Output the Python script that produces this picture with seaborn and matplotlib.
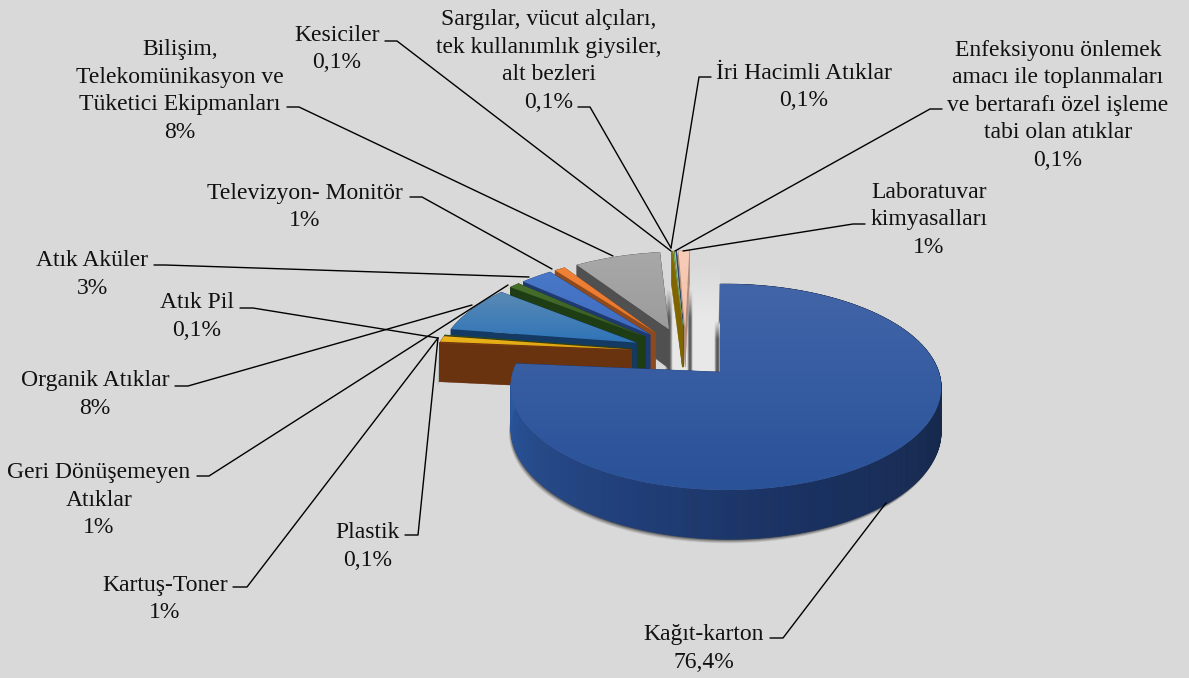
import numpy as np
import seaborn as sns
import matplotlib.pyplot as plt
from matplotlib.patches import Polygon

# chart data, clockwise from 12 o'clock
categories = ['Kağıt-karton', 'Plastik', 'Kartuş-Toner', 'Atık Pil', 'Organik Atıklar',
              'Geri Dönüşemeyen\nAtıklar', 'Atık Aküler', 'Televizyon- Monitör',
              'Bilişim,\nTelekomünikasyon ve\nTüketici Ekipmanları', 'Kesiciler',
              'Sargılar, vücut alçıları,\ntek kullanımlık giysiler,\nalt bezleri',
              'İri Hacimli Atıklar',
              'Enfeksiyonu önlemek\namacı ile toplanmaları\nve bertarafı özel işleme\ntabi olan atıklar',
              'Laboratuvar\nkimyasalları']
values = [76.4, 0.1, 1, 0.1, 8, 1, 3, 1, 8, 0.1, 0.1, 0.1, 0.1, 1]

# slice colours: top surface (far, near) and wall
top_far = ['#4265a8', '#8a4014', '#f0b81c', '#3a5a20', '#5a8ab4', '#47702c', '#4a78c8', '#f08238',
           '#a8a8a8', '#8a7a20', '#7fb56a', '#a8c8b0', '#2a4a80', '#f8cdb8']
top_near = ['#2a5299', '#843c0c', '#d9a010', '#385723', '#2f74b8', '#385723', '#3f6cc0', '#e87428',
            '#9c9c9c', '#7f6000', '#70ad47', '#9dc3a6', '#264478', '#f4bfa6']
wall = ['#1a3263', '#6a3310', '#6a3310', '#24401a', '#143a64', '#1e3d14', '#1f3a70', '#8c4a1e',
        '#505050', '#806400', '#5a7a30', '#6a8a70', '#1a3058', '#b08a78']
main_wall = ['#16264a', '#14233f', '#16294e', '#1a3263', '#234584', '#2c5aa0']

# label anchors: centre x, first line y, line height 27.5
label_x = [704, 368, 165, 197, 95, 99, 92, 305, 180, 337, 549, 804, 1058, 929]
label_y = [632, 530, 583, 300, 378, 470, 258, 191, 47, 33, 17, 71, 48, 190]
LINE_H = 27.5

# leader lines, label end to slice
leaders = [[(770, 638), (783, 638), (886, 503)],
           [(405, 535), (418, 535), (438, 338)],
           [(233, 587), (247, 587), (438, 338)],
           [(240, 308), (253, 308), (438, 338)],
           [(175, 386), (188, 386), (472, 305)],
           [(197, 476), (209, 476), (508, 285)],
           [(154, 265), (165, 265), (529, 277)],
           [(410, 197), (422, 197), (552, 269)],
           [(287, 107), (299, 107), (613, 256)],
           [(385, 41), (397, 41), (671, 251)],
           [(578, 107), (590, 107), (671, 248)],
           [(711, 77), (699, 77), (671, 248)],
           [(942, 109), (930, 109), (675, 251)],
           [(865, 224), (853, 224), (683, 251)]]

# projection of the pie plane onto the page
X0, Y0 = 720, 372     # page position of the first slice's tip
R, A = 212.7, 100.8
KY, KX = 0.1457, 0.028
DEPTH = 42
EXPLODE = 0.27
REST_SHIFT = 0.015    # small slices sit a little to the right of a pure explode

sns.set_theme(style='white', rc={'figure.facecolor': '#d9d9d9', 'axes.facecolor': '#d9d9d9'})
plt.rcParams['font.family'] = ['Liberation Serif', 'DejaVu Serif']

fig = plt.figure(figsize=(11.89, 6.78), dpi=100)
ax = fig.add_axes([0, 0, 1, 1])
ax.set_xlim(0, 1189)
ax.set_ylim(678, 0)
sns.despine(ax=ax, left=True, bottom=True)
ax.set_xticks([])
ax.set_yticks([])


def project(x, y):
    """plane coordinates relative to the first slice's tip -> page, plus the perspective factor"""
    s = 1 / (1 + KY * y - KX * x)
    return X0 + R * x * s, Y0 - A * y * s, s


def slice_outline(start, end, offset):
    ang = np.radians(np.linspace(start, end, max(int(end - start) * 2, 2)))
    rim_x = offset[0] + np.sin(ang)
    rim_y = offset[1] + np.cos(ang)
    return rim_x, rim_y


def radial_face(tip, rim, color, z):
    px, py, ps = project(np.array([tip[0], rim[0]]), np.array([tip[1], rim[1]]))
    pts = [(px[0], py[0]), (px[1], py[1]), (px[1], py[1] + DEPTH * ps[1]), (px[0], py[0] + DEPTH * ps[0])]
    ax.add_patch(Polygon(pts, closed=True, fc=color, ec=color, lw=0.3, zorder=z))


def soft_strip(x0, x1, y0, y1, color, z):
    # dark strip fading out at both sides and towards its top
    rgba = np.zeros((32, 12, 4))
    rgba[..., :3] = sns.color_palette([color])[0]
    across = np.sin(np.linspace(0, np.pi, 12))
    down = np.clip(np.linspace(0, 3, 32), 0, 1)
    rgba[..., 3] = np.outer(down, across)
    ax.imshow(rgba, extent=(x0, x1, y1, y0), aspect='auto', zorder=z, interpolation='bilinear')


edges = np.concatenate([[0], np.cumsum(values)]) * 3.6
mids = (edges[:-1] + edges[1:]) / 2
main_mid = np.radians(mids[0])
main_off = EXPLODE * np.array([np.sin(main_mid), np.cos(main_mid)])

# pale floor in the gap, fading out upwards, and the soft dark strips around it
tip_x, tip_y, _ = project(0.0, 0.0)
floor = np.zeros((64, 2, 4))
floor[..., :3] = sns.color_palette(['#e8e8e8'])[0]
floor[..., 3] = np.clip(np.linspace(0, 2.2, 64), 0, 1)[:, None]
ax.imshow(floor, extent=(tip_x - 50, tip_x, tip_y + 10, tip_y - 110), aspect='auto', zorder=1,
          interpolation='bilinear')
soft_strip(tip_x - 6, tip_x + 1, tip_y - 52, tip_y + 4, '#555555', 2)
soft_strip(tip_x - 33, tip_x - 27, tip_y - 84, tip_y + 4, '#555555', 2)
soft_strip(tip_x - 55, tip_x - 47, tip_y - 84, tip_y + 4, '#555555', 2)

# far slices first, the big slice last
z = 10
for i in list(range(len(values) - 1, -1, -1)):
    b = np.radians(mids[i])
    off = EXPLODE * np.array([np.sin(b), np.cos(b)]) - main_off
    if i != 0:
        off[0] += REST_SHIFT
    rim_x, rim_y = slice_outline(edges[i], edges[i + 1], off)
    px, py, ps = project(rim_x, rim_y)
    tx, ty, ts = project(off[0], off[1])

    # soft shadow below the biggest walls
    if i in (0, 1):
        shadow = np.column_stack([px, py + DEPTH * ps])
        for grow, alpha in zip((4, 3, 2, 1), (0.10, 0.15, 0.2, 0.3)):
            pts = np.vstack([np.column_stack([px, py]), (shadow + [-grow * 0.5, grow])[::-1]])
            ax.add_patch(Polygon(pts, closed=True, fc='black', ec='none', alpha=alpha, zorder=z))
            z += 1

    # outer wall, shaded along the rim on the big slice
    if i == 0:
        cols = sns.blend_palette(main_wall, len(px) - 1)
        for j in range(len(px) - 1):
            pts = [(px[j], py[j]), (px[j + 1], py[j + 1]),
                   (px[j + 1], py[j + 1] + DEPTH * ps[j + 1]), (px[j], py[j] + DEPTH * ps[j])]
            ax.add_patch(Polygon(pts, closed=True, fc=cols[j], ec=cols[j], lw=0.4, zorder=z))
    else:
        pts = np.vstack([np.column_stack([px, py]), np.column_stack([px, py + DEPTH * ps])[::-1]])
        ax.add_patch(Polygon(pts, closed=True, fc=wall[i], ec=wall[i], lw=0.3, zorder=z))
    z += 1

    # radial walls
    radial_face(off, (rim_x[-1], rim_y[-1]), wall[i], z)
    z += 1
    if i != 0:
        radial_face(off, (rim_x[0], rim_y[0]), wall[i], z)
        z += 1

    # top surface with a vertical gradient
    outline = np.vstack([[(tx, ty)], np.column_stack([px, py])])
    patch = Polygon(outline, closed=True, fc='none', ec='none', zorder=z)
    ax.add_patch(patch)
    grad = np.array(sns.blend_palette([top_far[i], top_near[i]], 64))[:, None, :]
    ymin, ymax = outline[:, 1].min(), outline[:, 1].max()
    xmin, xmax = outline[:, 0].min(), outline[:, 0].max()
    im = ax.imshow(grad, extent=(xmin, xmax, ymax, ymin), aspect='auto', zorder=z, interpolation='bilinear')
    im.set_clip_path(patch)
    z += 1

ax.set_xlim(0, 1189)
ax.set_ylim(678, 0)

# leader lines
for line in leaders:
    xs, ys = zip(*line)
    sns.lineplot(x=list(xs), y=list(ys), ax=ax, color='black', lw=1.0, sort=False, estimator=None,
                 legend=False, zorder=500)

# labels
for name, val, x, y in zip(categories, values, label_x, label_y):
    parts = name.split('\n') + [f'{val:g}'.replace('.', ',') + '%']
    for n, part in enumerate(parts):
        ax.text(x, y + n * LINE_H, part, ha='center', va='center_baseline', fontsize=17,
                color='#111111', zorder=600)

fig.savefig('out.png', dpi=100, facecolor=fig.get_facecolor())
